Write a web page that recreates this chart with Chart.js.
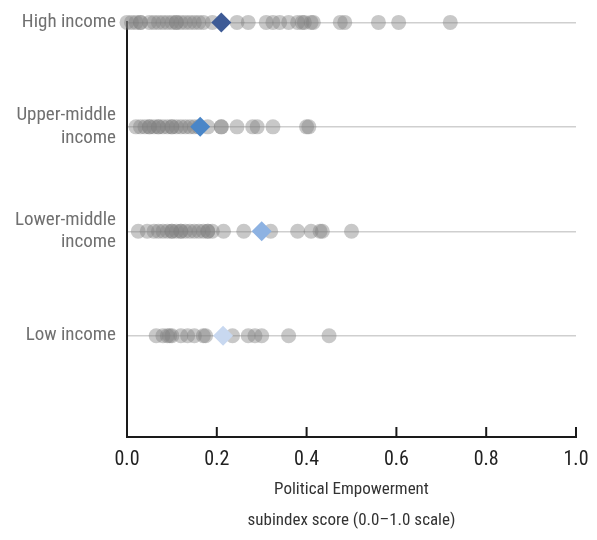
<!DOCTYPE html>
<html>
<head>
<meta charset="utf-8">
<script src="https://cdn.jsdelivr.net/npm/chart.js@4/dist/chart.umd.min.js"></script>
<style>
  html, body { margin: 0; padding: 0; background: #ffffff; }
  #wrap { width: 597px; height: 540px; }
</style>
</head>
<body>
<div id="wrap"><canvas id="c" width="597" height="540"></canvas></div>
<script>
// ---- data ----
const categories = ['High income', 'Upper-middle income', 'Lower-middle income', 'Low income'];
const yTickLabels = [['High income'], ['Upper-middle', 'income'], ['Lower-middle', 'income'], ['Low income']];
const xTickValues = [0, 0.2, 0.4, 0.6, 0.8, 1.0];

const highIncome = [0.00, 0.01, 0.02, 0.03, 0.03, 0.05, 0.06, 0.07, 0.08, 0.09, 0.10, 0.11, 0.11, 0.12, 0.13, 0.14, 0.15, 0.16, 0.17, 0.19, 0.245, 0.27, 0.31, 0.325, 0.34, 0.36, 0.38, 0.39, 0.395, 0.41, 0.415, 0.475, 0.485, 0.56, 0.605, 0.72];
const upperMiddle = [0.02, 0.03, 0.04, 0.05, 0.05, 0.06, 0.07, 0.07, 0.08, 0.09, 0.10, 0.10, 0.11, 0.12, 0.13, 0.14, 0.15, 0.16, 0.18, 0.21, 0.21, 0.245, 0.28, 0.29, 0.325, 0.40, 0.405];
const lowerMiddle = [0.025, 0.045, 0.06, 0.07, 0.08, 0.09, 0.10, 0.10, 0.11, 0.12, 0.12, 0.13, 0.14, 0.15, 0.16, 0.17, 0.18, 0.18, 0.19, 0.215, 0.26, 0.32, 0.38, 0.41, 0.43, 0.435, 0.50];
const lowIncome = [0.065, 0.08, 0.09, 0.095, 0.10, 0.12, 0.135, 0.15, 0.17, 0.175, 0.235, 0.27, 0.285, 0.30, 0.36, 0.45];
const groupMeans = [0.21, 0.163, 0.30, 0.214];
const meanColors = ['#3e5b96', '#4a86c8', '#8db2e2', '#c8d8f0'];

const groups = [highIncome, upperMiddle, lowerMiddle, lowIncome];
const rowValue = i => categories.length - i; // High=4 ... Low=1

const datasets = [];
groups.forEach((vals, i) => {
  datasets.push({
    label: categories[i],
    data: vals.map(v => ({ x: v, y: rowValue(i) })),
    pointRadius: 7.5,
    pointBackgroundColor: 'rgba(128,128,128,0.43)',
    pointBorderWidth: 0,
    pointBorderColor: 'rgba(0,0,0,0)',
    showLine: false,
    clip: false,
    order: 2
  });
});
groupMeans.forEach((m, i) => {
  datasets.push({
    label: categories[i] + ' mean',
    data: [{ x: m, y: rowValue(i) }],
    pointStyle: 'rectRot',
    pointRadius: 10,
    pointBackgroundColor: meanColors[i],
    pointBorderWidth: 0,
    pointBorderColor: 'rgba(0,0,0,0)',
    showLine: false,
    clip: false,
    order: 1
  });
});

const innerTicks = {
  id: 'innerTicks',
  afterDraw(chart) {
    const xs = chart.scales.x;
    const ctx = chart.ctx;
    const bottom = chart.chartArea.bottom;
    ctx.save();
    ctx.strokeStyle = '#1a1a1a';
    ctx.lineWidth = 2;
    xTickValues.forEach(v => {
      if (v === 0) return;
      const px = xs.getPixelForValue(v);
      ctx.beginPath();
      ctx.moveTo(px, bottom);
      ctx.lineTo(px, bottom - 10);
      ctx.stroke();
    });
    ctx.restore();
  }
};

Chart.defaults.font.family = "'Liberation Sans Narrow', 'Roboto Condensed', 'DejaVu Sans Condensed', 'Arial Narrow', sans-serif";

new Chart(document.getElementById('c'), {
  type: 'scatter',
  data: { datasets },
  options: {
    responsive: false,
    animation: false,
    events: [],
    layout: { padding: { top: 20, right: 21, left: 0, bottom: 0 } },
    plugins: { legend: { display: false }, tooltip: { enabled: false } },
    scales: {
      x: {
        type: 'linear',
        min: 0, max: 1,
        afterBuildTicks: s => { s.ticks = xTickValues.map(v => ({ value: v })); },
        afterFit: s => { s.height = 103; s.paddingRight = 0; s.paddingLeft = 0; },
        ticks: {
          callback: v => Number(v).toFixed(1),
          color: '#222',
          font: { size: 20 },
          padding: 11,
          maxRotation: 0
        },
        grid: { drawOnChartArea: false, drawTicks: false },
        border: { color: '#1a1a1a', width: 2 },
        title: {
          display: true,
          text: ['Political Empowerment', 'subindex score (0.0–1.0 scale)'],
          color: '#333',
          font: { size: 17, lineHeight: 1.82 },
          padding: { top: 4, bottom: 4 }
        }
      },
      y: {
        type: 'linear',
        min: 0.03, max: 4,
        afterBuildTicks: s => { s.ticks = categories.map((c, i) => ({ value: rowValue(i) })); },
        afterFit: s => { s.width = 127; },
        ticks: {
          callback: v => yTickLabels[categories.length - v],
          color: '#707070',
          font: { size: 19, lineHeight: 1.2 },
          padding: 11
        },
        grid: { color: '#cfcfcf', lineWidth: 1.5, drawTicks: false },
        border: { color: '#1a1a1a', width: 2 }
      }
    }
  },
  plugins: [innerTicks]
});
</script>
</body>
</html>
